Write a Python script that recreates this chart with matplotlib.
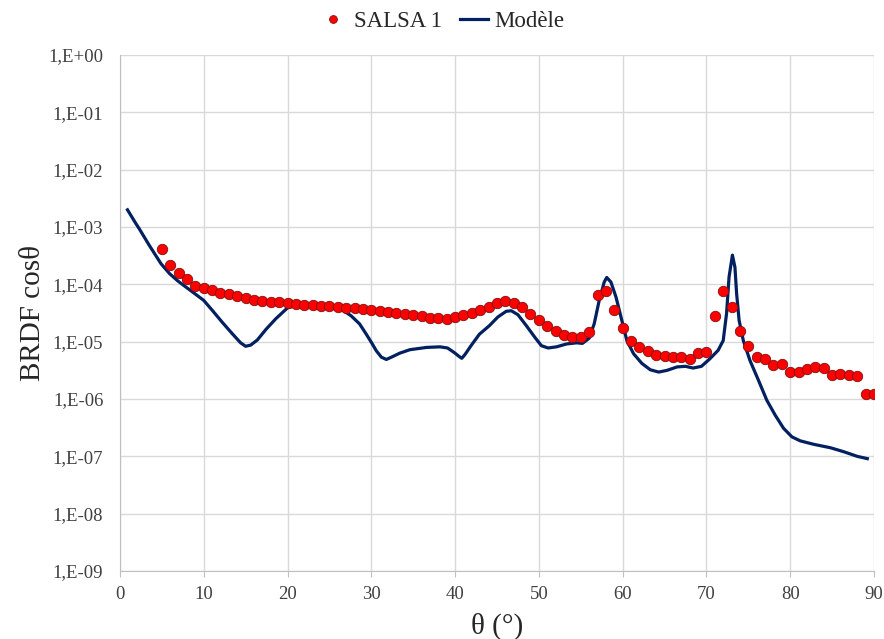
import numpy as np
import matplotlib.pyplot as plt
from matplotlib.ticker import FixedLocator, FuncFormatter

plt.rcParams['font.family'] = ['Liberation Serif', 'DejaVu Serif']

# mesures SALSA 1 (theta en degres, BRDF cos theta)
theta_mes = list(range(5, 91))
brdf_mes = [4.1e-4, 2.15e-4, 1.6e-4, 1.24e-4, 9.5e-5, 8.7e-5, 7.9e-5, 7.1e-5, 6.8e-5, 6.3e-5,
            5.7e-5, 5.3e-5, 5.1e-5, 5.0e-5, 4.9e-5, 4.7e-5, 4.55e-5, 4.4e-5, 4.3e-5, 4.2e-5,
            4.2e-5, 4.1e-5, 3.9e-5, 3.8e-5, 3.65e-5, 3.55e-5, 3.4e-5, 3.35e-5, 3.2e-5, 3.1e-5,
            2.9e-5, 2.75e-5, 2.6e-5, 2.55e-5, 2.5e-5, 2.7e-5, 2.9e-5, 3.2e-5, 3.5e-5, 4.1e-5,
            4.8e-5, 5.1e-5, 4.8e-5, 4.1e-5, 3.1e-5, 2.4e-5, 1.85e-5, 1.55e-5, 1.3e-5, 1.23e-5,
            1.2e-5, 1.47e-5, 6.5e-5, 7.8e-5, 3.6e-5, 1.75e-5, 1.03e-5, 8.1e-6, 6.8e-6, 5.9e-6,
            5.7e-6, 5.5e-6, 5.4e-6, 5.0e-6, 6.3e-6, 6.7e-6, 2.8e-5, 7.6e-5, 4.1e-5, 1.53e-5,
            8.3e-6, 5.5e-6, 4.9e-6, 3.9e-6, 4.0e-6, 3.0e-6, 2.95e-6, 3.3e-6, 3.6e-6, 3.5e-6,
            2.6e-6, 2.7e-6, 2.6e-6, 2.55e-6, 1.2e-6, 1.2e-6]

# modele (log10 de BRDF cos theta)
theta_mod = [0.9, 1.9, 2.3, 3.5, 4.9, 5.9, 6.9, 7.9, 9.0, 10.0, 11.0, 12.2, 13.4, 14.4, 15.0,
             15.6, 16.4, 17.4, 18.6, 20.0, 21.0, 22.6, 24.6, 26.6, 27.6, 28.6, 29.4, 30.0, 30.6,
             31.2, 31.8, 32.4, 33.4, 34.6, 36.6, 38.2, 39.1, 39.9, 40.5, 40.8, 41.2, 41.9, 42.9,
             44.1, 45.1, 46.1, 46.7, 47.5, 48.5, 49.5, 50.3, 51.1, 52.1, 53.3, 54.5, 55.2, 56.0,
             56.6, 57.2, 57.8, 58.1, 58.6, 59.2, 59.8, 60.5, 61.3, 62.3, 63.3, 64.3, 65.3, 66.5,
             67.5, 68.4, 69.4, 70.4, 71.4, 72.0, 72.4, 72.7, 73.1, 73.4, 73.6, 73.9, 74.4, 75.2,
             76.2, 77.2, 78.2, 79.2, 80.2, 81.2, 82.8, 84.8, 86.4, 88.0, 89.2]
log_mod = [-2.70, -2.94, -3.03, -3.32, -3.64, -3.81, -3.94, -4.05, -4.17, -4.28, -4.45, -4.66,
           -4.86, -5.02, -5.08, -5.06, -4.97, -4.79, -4.60, -4.41, -4.37, -4.34, -4.37, -4.45,
           -4.55, -4.69, -4.87, -5.01, -5.16, -5.27, -5.31, -5.27, -5.20, -5.14, -5.10, -5.09,
           -5.11, -5.19, -5.26, -5.29, -5.22, -5.07, -4.87, -4.72, -4.57, -4.47, -4.46, -4.53,
           -4.72, -4.92, -5.07, -5.11, -5.09, -5.04, -5.02, -5.03, -4.94, -4.69, -4.28, -3.96,
           -3.88, -3.96, -4.22, -4.57, -4.98, -5.21, -5.38, -5.49, -5.53, -5.50, -5.44, -5.43,
           -5.46, -5.43, -5.30, -5.15, -4.98, -4.51, -3.87, -3.49, -3.70, -4.16, -4.63, -4.98,
           -5.33, -5.67, -6.02, -6.28, -6.51, -6.66, -6.73, -6.79, -6.85, -6.92, -7.00, -7.04]

y_ticks = [10.0 ** k for k in range(-9, 1)]
x_ticks = list(range(0, 91, 10))

fig = plt.figure(figsize=(8.84, 6.39), dpi=100)
ax = fig.add_axes([0.1357, 0.1064, 0.853, 0.8075])

ax.plot(theta_mod, 10.0 ** np.array(log_mod), color='#002060', lw=2.3, label='Modèle',
        zorder=3, solid_joinstyle='round')
ax.plot(theta_mes, brdf_mes, 'o', color='#ff0000', mec='#7f1010', mew=0.6, ms=7.5,
        label='SALSA 1', zorder=4)

ax.set_yscale('log')
ax.set_xlim(0, 90)
ax.set_ylim(1e-9, 1e0)
ax.yaxis.set_major_locator(FixedLocator(y_ticks))
ax.yaxis.set_minor_locator(FixedLocator([]))
ax.yaxis.set_major_formatter(FuncFormatter(lambda v, p: '1,E%+03d' % round(np.log10(v))))
ax.set_xticks(x_ticks)

ax.grid(True, color='#d9d9d9', lw=1)
ax.set_axisbelow(True)
for s in ['top', 'right']:
    ax.spines[s].set_visible(False)
for s in ['left', 'bottom']:
    ax.spines[s].set_color('#bfbfbf')
ax.tick_params(axis='both', colors='#bfbfbf', labelcolor='#404040', labelsize=13.5, length=4)
ax.tick_params(axis='x', pad=7)
ax.tick_params(axis='y', length=0, pad=12)

ax.set_xlabel('θ (°)', fontsize=21, color='#262626', labelpad=7)
ax.set_ylabel('BRDF cosθ', fontsize=21, color='#262626', labelpad=2)

h, l = ax.get_legend_handles_labels()
leg = fig.legend(h[::-1], l[::-1], loc='upper center', bbox_to_anchor=(0.5, 1.015), ncol=2,
                 frameon=False, fontsize=16.5, handlelength=1.2, columnspacing=0.8,
                 handletextpad=0.3, markerscale=0.75)
for t in leg.get_texts():
    t.set_color('#262626')

fig.savefig('out.png', dpi=100)
